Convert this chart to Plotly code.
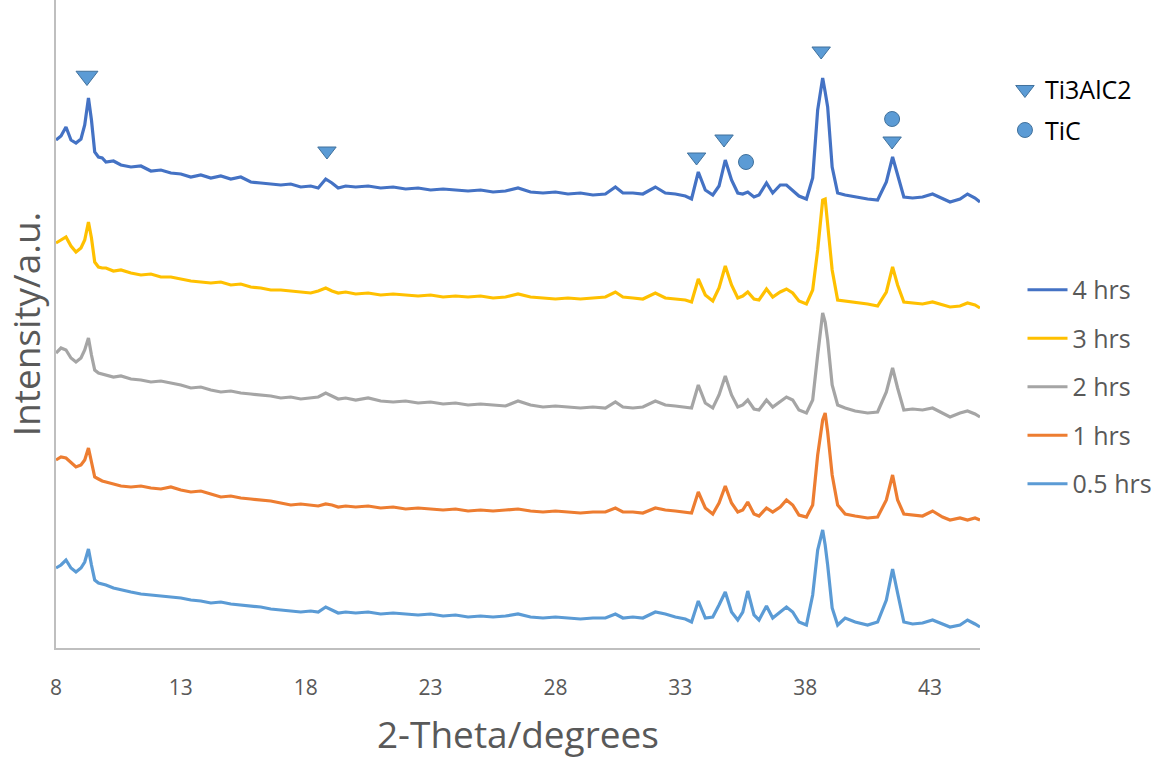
import plotly.graph_objects as go

# 2-theta grid (degrees)
two_theta = [
    8.0, 8.2, 8.4, 8.6, 8.8, 9.0, 9.15, 9.3, 9.42, 9.55,
    9.7, 9.85, 10.0, 10.3, 10.6, 11.0, 11.4, 11.8, 12.2, 12.6,
    13.0, 13.4, 13.8, 14.2, 14.6, 15.0, 15.4, 15.8, 16.2, 16.6,
    17.0, 17.4, 17.8, 18.2, 18.5, 18.8, 19.05, 19.3, 19.6, 20.0,
    20.5, 21.0, 21.5, 22.0, 22.5, 23.0, 23.5, 24.0, 24.5, 25.0,
    25.5, 26.0, 26.5, 27.0, 27.5, 28.0, 28.5, 29.0, 29.5, 30.0,
    30.4, 30.7, 31.1, 31.5, 32.0, 32.4, 32.8, 33.2, 33.45, 33.72,
    34.0, 34.3, 34.55, 34.8, 35.05, 35.3, 35.5, 35.7, 35.95, 36.15,
    36.45, 36.7, 37.0, 37.25, 37.5, 37.75, 38.05, 38.3, 38.5, 38.7, 38.8,
    38.9, 39.08, 39.3, 39.6, 40.0, 40.5, 40.9, 41.25, 41.5, 41.7,
    41.95, 42.3, 42.7, 43.1, 43.5, 43.8, 44.2, 44.5, 44.8, 45.0,
]

# Intensities (a.u., stacked patterns)
hrs_4 = [
    508, 512, 521, 508, 505, 509, 523, 550, 528, 496,
    491, 490, 486, 487, 483, 481, 482, 477, 478, 475,
    474, 471, 473, 470, 472, 469, 471, 466, 465, 464,
    463, 464, 461, 462, 460, 469, 465, 460, 462, 461,
    462, 460, 461, 459, 460, 458, 459, 458, 457, 458,
    456, 457, 460, 456, 455, 456, 454, 455, 453, 454,
    461, 455, 455, 454, 461, 455, 454, 452, 449, 476,
    458, 453, 462, 488, 468, 455, 454, 456, 451, 453,
    465, 455, 463, 463, 457, 452, 449, 470, 538, 570, 556,
    541, 481, 455, 453, 451, 449, 448, 466, 491, 472,
    451, 450, 451, 454, 449, 446, 449, 454, 450, 446,
]
hrs_3 = [
    405, 408, 411, 402, 396, 400, 408, 426, 410, 386,
    381, 380, 380, 377, 378, 375, 373, 374, 371, 371,
    369, 367, 366, 365, 366, 363, 364, 361, 360, 358,
    358, 357, 356, 355, 357, 360, 357, 355, 356, 354,
    355, 353, 354, 353, 352, 353, 351, 352, 351, 352,
    350, 351, 354, 351, 350, 349, 350, 349, 350, 351,
    356, 351, 350, 349, 355, 350, 349, 348, 346, 369,
    353, 347, 360, 382, 363, 350, 352, 356, 349, 348,
    359, 351, 356, 359, 355, 347, 344, 358, 398, 448, 449,
    426, 378, 348, 347, 346, 344, 342, 356, 381, 363,
    346, 345, 344, 346, 343, 341, 342, 345, 343, 340,
]
hrs_2 = [
    295, 300, 298, 290, 286, 290, 298, 310, 293, 278,
    275, 274, 273, 271, 272, 269, 268, 266, 267, 265,
    263, 260, 261, 258, 256, 257, 255, 254, 253, 252,
    250, 251, 249, 250, 251, 255, 252, 249, 250, 248,
    250, 247, 246, 247, 245, 246, 244, 245, 243, 244,
    243, 242, 247, 243, 241, 242, 241, 240, 241, 240,
    246, 241, 240, 241, 247, 243, 242, 241, 240, 263,
    245, 240, 253, 272, 253, 241, 243, 248, 239, 238,
    248, 241, 246, 251, 248, 238, 235, 248, 293, 335, 326,
    308, 263, 243, 240, 237, 235, 236, 256, 280, 260,
    238, 239, 238, 240, 235, 231, 235, 237, 234, 231,
]
hrs_1 = [
    188, 191, 190, 185, 181, 183, 188, 200, 186, 171,
    169, 167, 166, 164, 162, 161, 162, 160, 159, 161,
    158, 156, 157, 154, 151, 152, 150, 149, 148, 147,
    145, 143, 144, 143, 142, 144, 143, 141, 142, 141,
    142, 140, 141, 139, 140, 139, 138, 139, 137, 138,
    137, 138, 139, 137, 136, 137, 136, 135, 136, 136,
    140, 136, 136, 135, 140, 138, 137, 136, 135, 156,
    140, 134, 145, 162, 145, 136, 138, 146, 134, 132,
    140, 136, 141, 148, 143, 133, 131, 143, 193, 228, 235,
    216, 173, 143, 134, 132, 130, 131, 148, 173, 148,
    134, 133, 132, 137, 131, 128, 130, 128, 130, 128,
]
hrs_05 = [
    80, 83, 88, 80, 76, 80, 86, 99, 83, 68,
    65, 64, 63, 60, 58, 56, 54, 53, 52, 51,
    50, 48, 47, 45, 46, 44, 43, 42, 41, 39,
    38, 37, 36, 37, 36, 41, 38, 35, 36, 35,
    36, 34, 35, 34, 33, 34, 32, 33, 31, 32,
    31, 32, 34, 31, 30, 31, 30, 29, 30, 30,
    34, 30, 31, 30, 36, 34, 31, 29, 26, 47,
    30, 31, 43, 56, 36, 28, 36, 57, 33, 28,
    42, 30, 36, 41, 36, 26, 23, 53, 98, 118, 103,
    83, 40, 23, 30, 26, 23, 26, 48, 79, 55,
    26, 24, 25, 28, 24, 21, 23, 28, 24, 21,
]

series_names = ["4 hrs", "3 hrs", "2 hrs", "1 hrs", "0.5 hrs"]
series_values = [hrs_4, hrs_3, hrs_2, hrs_1, hrs_05]
series_colors = ["#4472C4", "#FFC000", "#A5A5A5", "#ED7D31", "#5B9BD5"]

# Phase markers
ti3alc2_x = [9.24, 18.85, 33.65, 34.75, 38.64, 41.48]
ti3alc2_y = [572, 497, 491, 509, 597, 507]
ti3alc2_size = [19, 16, 16, 16, 16, 16]
tic_x = [35.63, 41.48]
tic_y = [486, 529]

fig = go.Figure()

for name, vals, col in zip(series_names, series_values, series_colors):
    fig.add_trace(go.Scatter(
        x=two_theta, y=vals, mode="lines", name=name,
        line=dict(color=col, width=3.2),
        legend="legend2", legendgroup=name,
    ))

fig.add_trace(go.Scatter(
    x=ti3alc2_x, y=ti3alc2_y, mode="markers", name="Ti3AlC2",
    marker=dict(symbol="triangle-down", size=ti3alc2_size, color="#5B9BD5",
                opacity=1, line=dict(color="#41719C", width=1)),
    legend="legend", legendgroup="Ti3AlC2",
))
fig.add_trace(go.Scatter(
    x=tic_x, y=tic_y, mode="markers", name="TiC",
    marker=dict(symbol="circle", size=15, color="#5B9BD5",
                opacity=1, line=dict(color="#41719C", width=1)),
    legend="legend", legendgroup="TiC",
))

font_family = "Open Sans, Noto Sans, sans-serif"

fig.update_layout(
    width=1161, height=759,
    margin=dict(l=56, r=181, t=0, b=111),
    paper_bgcolor="white", plot_bgcolor="white",
    font=dict(family=font_family, color="#595959"),
    xaxis=dict(
        range=[8, 45], tickmode="array",
        tickvals=[8, 13, 18, 23, 28, 33, 38, 43],
        ticktext=["8", "13", "18", "23", "28", "33", "38", "43"],
        showgrid=False, zeroline=False, showline=True,
        linecolor="#BFBFBF", linewidth=1.5, ticks="",
        tickfont=dict(size=21, color="#595959"),
        ticklabelstandoff=20,
        title=dict(text="2-Theta/degrees", font=dict(size=37, color="#595959"), standoff=22),
    ),
    yaxis=dict(
        range=[0, 648], showticklabels=False, showgrid=False, zeroline=False,
        showline=True, linecolor="#BFBFBF", linewidth=1.5, ticks="",
        title=dict(text="Intensity/a.u.", font=dict(size=37, color="#595959"), standoff=4),
    ),
    legend=dict(
        x=1.027, y=0.897, xanchor="left", yanchor="top",
        font=dict(size=25, color="#000000"), tracegroupgap=5,
        itemwidth=30, bgcolor="rgba(0,0,0,0)",
    ),
    legend2=dict(
        x=1.046, y=0.588, xanchor="left", yanchor="top",
        font=dict(size=25, color="#595959"), tracegroupgap=13,
        itemwidth=40, bgcolor="rgba(0,0,0,0)",
    ),
    showlegend=True,
)

fig.write_html("out.html")
